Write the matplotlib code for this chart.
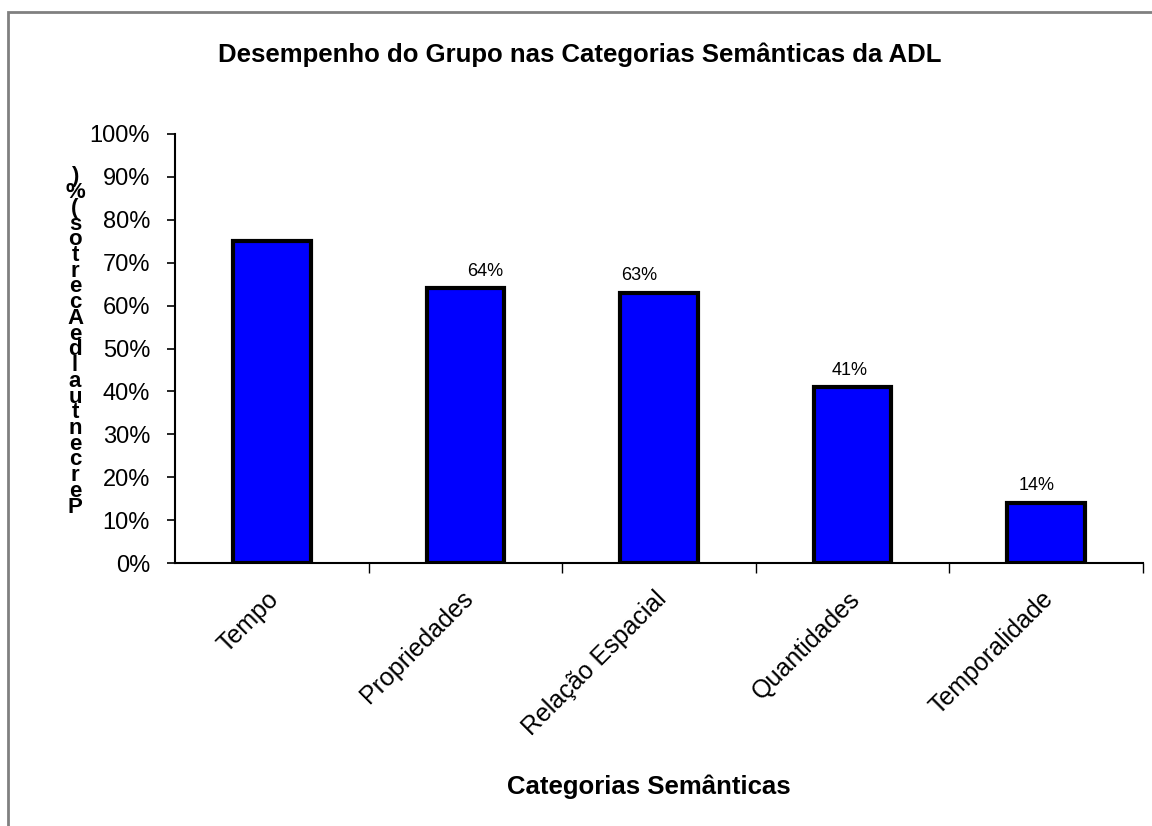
import matplotlib
matplotlib.use('Agg')
import matplotlib.pyplot as plt
from matplotlib.patches import Rectangle
from matplotlib.ticker import FixedLocator, NullFormatter
from matplotlib.transforms import ScaledTranslation

# data
categories = ['Tempo', 'Propriedades', 'Relação Espacial', 'Quantidades', 'Temporalidade']
values = [75, 64, 63, 41, 14]
shown_labels = ['', '64%', '63%', '41%', '14%']
yticks = list(range(0, 101, 10))
title = 'Desempenho do Grupo nas Categorias Semânticas da ADL'
xlabel = 'Categorias Semânticas'
ylabel = 'Percentual de Acertos (%)'

# small horizontal nudges of the value labels (as in the original chart)
label_dx = [0, 0.1, -0.1, -0.015, -0.05]

plt.rcParams['font.family'] = ['Liberation Sans', 'DejaVu Sans']

fig = plt.figure(figsize=(11.52, 8.26), dpi=100)
ax = fig.add_axes([175 / 1152, 1 - 563 / 826, (1143 - 175) / 1152, (563 - 134) / 826])

# outer frame of the chart area (only left and top edges visible)
fig.patches.append(Rectangle((8 / 1152, -0.5), 1.2, 1.5 - 12 / 826, transform=fig.transFigure,
                             fill=False, edgecolor='#808080', linewidth=2))

x = list(range(len(categories)))
ax.bar(x, values, width=0.4, color='#0000FF', edgecolor='black', linewidth=3, zorder=3)

for xi, v, lab, dx in zip(x, values, shown_labels, label_dx):
    ax.text(xi + dx, v + 2, lab, ha='center', va='bottom', fontsize=13)

ax.set_xlim(-0.5, len(categories) - 0.5)
ax.set_ylim(0, 100)

ax.set_yticks(yticks)
ax.set_yticklabels([f'{t}%' for t in yticks], fontsize=17)
ax.tick_params(axis='y', direction='out', length=6, width=1.2, pad=12)

# category ticks between the bars, labels at the bar centres
ax.xaxis.set_major_locator(FixedLocator([i + 0.5 for i in x]))
ax.xaxis.set_major_formatter(NullFormatter())
ax.xaxis.set_minor_locator(FixedLocator(x))
ax.set_xticklabels(categories, minor=True, rotation=45, ha='right', va='top',
                   rotation_mode='anchor', fontsize=18)
ax.tick_params(axis='x', which='major', direction='out', length=7, width=1)
ax.tick_params(axis='x', which='minor', length=0, pad=17)
shift = ScaledTranslation(-5 / 100, 0, fig.dpi_scale_trans)
for lbl in ax.get_xticklabels(minor=True):
    lbl.set_transform(lbl.get_transform() + shift)

for s in ['top', 'right']:
    ax.spines[s].set_visible(False)
ax.spines['left'].set_linewidth(1.5)
ax.spines['bottom'].set_linewidth(1.5)

fig.text(580 / 1152, 1 - 55 / 826, title, ha='center', va='center', fontsize=18.5, fontweight='bold')
fig.text(649 / 1152, 1 - 787 / 826, xlabel, ha='center', va='center', fontsize=18.5, fontweight='bold')

stacked = '\n'.join(reversed(ylabel.replace(' ', '')))
fig.text(75 / 1152, 1 - 342 / 826, stacked, ha='center', va='center', fontsize=16,
         fontweight='bold', linespacing=0.67)

fig.savefig('out.png', dpi=100)
